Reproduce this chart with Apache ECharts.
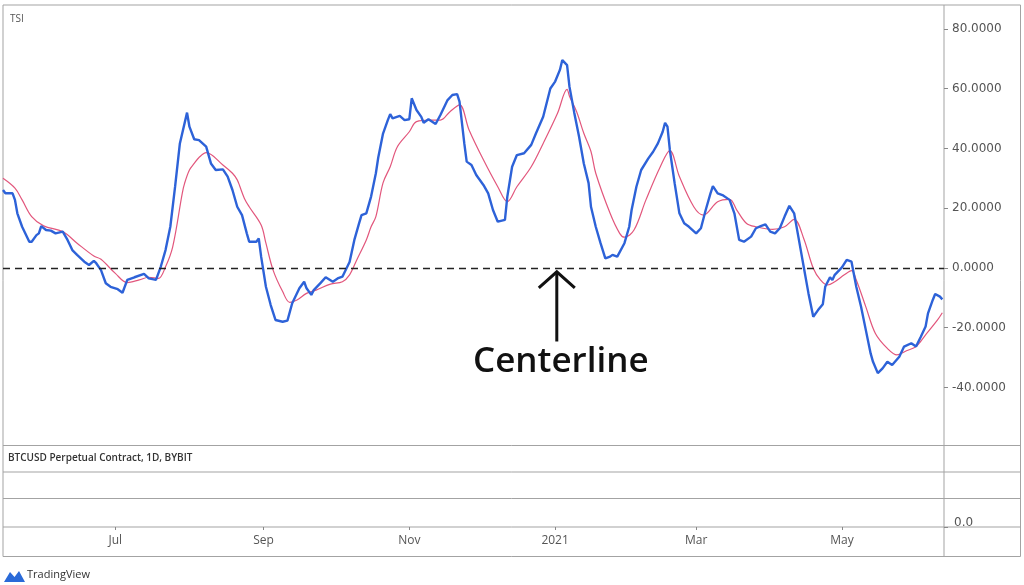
<!DOCTYPE html>
<html>
<head>
<meta charset="utf-8">
<script src="https://cdn.jsdelivr.net/npm/echarts@6/dist/echarts.min.js"></script>
<style>
  html, body { margin: 0; padding: 0; background: #fff; }
  #chart { width: 1024px; height: 585px; }
</style>
</head>
<body>
<div id="chart"></div>
<script>
// first day shown on the chart, every series is given in days from here
const startDate = '2020-05-15';
const lastDay = 393.7;

// TSI line (blue)
const blueDay = [0,1,4,5,6,8,11,12,14,15,
  16,18,20,22,25,27,29,31,34,36,
  38,39,41,43,45,48,50,52,55,59,
  61,64,66,68,70,72,74,77,78,80,
  82,85,87,89,92,94,96,98,100,102,
  103,106,107,108,110,112,114,117,119,121,
  124,126,127,129,130,133,135,138,140,142,
  145,147,149,150,152,154,156,157,159,161,
  162,163,166,168,170,171,173,175,176,178,
  181,183,186,188,190,191,193,194,196,198,
  201,203,205,207,210,211,213,215,218,221,
  223,226,229,231,233,234,236,237,239,241,
  243,245,246,248,250,252,254,255,257,260,
  262,263,265,267,270,272,274,276,277,278,
  279,281,283,285,287,290,292,294,296,297,
  299,301,304,306,308,310,313,315,317,319,
  321,323,325,327,329,331,333,335,337,339,
  341,343,344,346,347,348,351,353,355,357,
  359,361,363,364,366,368,370,372,375,377,
  380,382,384,386,387,389,390,392,393];
const blueTsi = [26.1,25.0,25.0,22.8,18.3,13.8,8.8,8.8,11.0,11.6,
  14.0,12.7,12.5,11.6,12.2,9.4,6.0,4.4,2.1,1.0,
  2.4,1.6,-0.7,-5.1,-6.3,-7.1,-8.3,-4.0,-3.1,-2.0,
  -3.5,-4.0,0.4,6.0,13.8,27.2,41.7,52.0,47.3,43.1,
  42.8,40.6,35.0,32.8,33.0,30.6,26.1,20.5,17.7,11.6,
  8.8,8.8,9.9,3.8,-6.3,-12.4,-17.4,-18.0,-17.6,-11.8,
  -6.8,-4.6,-6.8,-9.0,-7.4,-4.9,-3.1,-4.6,-3.5,-2.9,
  2.0,9.4,15.0,17.7,18.3,23.9,31.7,37.0,45.0,49.5,
  51.5,50.1,50.9,49.5,49.8,56.8,52.9,50.6,48.6,49.8,
  48.2,51.2,56.2,57.9,58.2,55.7,41.7,35.6,34.5,31.1,
  27.8,25.0,19.4,15.5,16.1,23.9,33.9,37.8,38.4,41.2,
  45.1,50.6,60.1,62.4,66.3,69.6,67.9,60.7,52.0,44.0,
  35.0,28.4,20.5,13.8,8.3,3.2,3.8,4.4,3.8,8.3,
  13.8,19.4,27.2,32.8,36.7,38.9,41.7,45.6,48.6,47.3,
  39.5,28.4,18.3,15.0,13.8,11.6,13.3,19.4,25.0,27.4,
  25.0,24.4,22.8,18.3,9.4,8.8,10.5,13.3,14.0,14.6,
  12.2,11.6,13.3,17.2,20.8,18.3,9.4,0.4,-8.5,-16.3,
  -14.1,-12.1,-6.3,-3.1,-4.0,-2.3,0.2,2.7,2.1,-6.3,
  -13.0,-20.8,-28.6,-31.4,-35.2,-33.6,-31.4,-32.5,-29.7,-26.3,
  -25.2,-26.3,-23.0,-19.6,-15.2,-10.7,-8.7,-9.6,-10.5];

// signal line (pink)
const redDay = [0,5,8,12,17,25,31,38,41,47,
  52,57,61,65,68,71,75,76,78,80,
  82,85,92,96,98,99,101,103,108,110,
  113,117,120,123,127,131,137,142,145,148,
  152,154,156,159,162,165,170,173,179,183,
  187,191,195,201,207,211,215,221,226,232,
  236,237,240,243,246,248,254,258,260,264,
  269,275,279,283,289,293,299,304,307,311,
  315,322,327,331,335,339,342,345,348,352,
  355,357,361,365,370,374,378,382,386,391,393];
const redSignal = [30.0,26.7,22.8,17.2,14.1,12.2,8.3,4.0,2.9,-1.8,
  -4.9,-4.0,-3.1,-3.5,0.4,7.1,25.0,28.4,32.8,35.0,
  37.0,38.6,34.5,31.7,29.5,27.5,23.3,20.5,14.4,8.3,
  -0.7,-7.9,-11.5,-10.7,-8.5,-7.4,-5.4,-4.6,-2.3,2.7,
  9.4,13.8,17.2,28.5,33.9,40.6,45.6,49.0,49.5,49.5,
  52.3,54.6,46.2,36.2,27.2,22.2,27.2,33.9,41.7,51.8,
  59.8,57.5,52.3,45.1,39.0,31.7,18.3,11.6,10.3,12.7,
  22.8,33.9,39.3,30.6,20.5,17.7,22.2,23.0,19.4,15.0,
  13.8,12.9,13.8,16.3,9.9,-0.1,-4.0,-5.7,-4.6,-2.3,
  -0.9,-4.0,-13.0,-21.9,-26.9,-29.1,-27.7,-26.3,-22.4,-17.4,-15.0];

// axis ticks
const monthTicks = ['2020-07-01','2020-09-01','2020-11-01','2021-01-01','2021-03-01','2021-05-01'];
const monthLabels = ['Jul','Sep','Nov','2021','Mar','May'];
const tsiTicks = [80, 60, 40, 20, 0, -20, -40];

// annotation
const arrowDay = 231.7;
const arrowTip = -1.3;
const arrowTail = -24.6;
const noteValue = -31.6;
const noteText = 'Centerline';

const DAY = 86400000;
const t0 = Date.parse(startDate + 'T00:00:00Z');
const toTime = d => t0 + d * DAY;
const tickTimes = monthTicks.map(s => Date.parse(s + 'T00:00:00Z'));

const chart = echarts.init(document.getElementById('chart'));

const borderColor = '#a3a3a3';
const labelColor = '#555';

// x runs on timestamps, a value axis lets the month ticks sit at exact dates
let option = {
  animation: false,
  backgroundColor: '#fff',
  grid: [
    { left: 3, right: 80, top: 5, height: 440 },
    { left: 3, right: 80, top: 498, height: 29 }
  ],
  xAxis: [
    { type: 'value', gridIndex: 0, min: t0, max: toTime(lastDay), show: false },
    {
      type: 'value', gridIndex: 1, min: t0, max: toTime(lastDay),
      axisLine: { show: false },
      splitLine: { show: false },
      axisTick: { show: true, customValues: tickTimes, length: 3, lineStyle: { color: '#888' } },
      axisLabel: {
        customValues: tickTimes,
        color: labelColor,
        fontFamily: 'Open Sans',
        fontSize: 12,
        margin: 8,
        formatter: v => monthLabels[tickTimes.indexOf(v)] || ''
      }
    }
  ],
  yAxis: [
    {
      type: 'value', gridIndex: 0, position: 'right', min: -59.25, max: 88.03,
      axisLine: { show: false },
      splitLine: { show: false },
      axisTick: { show: true, customValues: tsiTicks, length: 4, lineStyle: { color: '#888' } },
      axisLabel: {
        customValues: tsiTicks,
        color: labelColor,
        fontFamily: 'DejaVu Sans',
        fontSize: 12,
        margin: 8,
        formatter: v => v.toFixed(4)
      }
    },
    {
      type: 'value', gridIndex: 1, position: 'right', min: 0, max: 1,
      axisLine: { show: false },
      splitLine: { show: false },
      axisTick: { show: true, customValues: [0], length: 4, lineStyle: { color: '#888' } },
      axisLabel: {
        customValues: [0],
        color: labelColor,
        fontFamily: 'DejaVu Sans',
        fontSize: 12,
        margin: 10,
        verticalAlign: 'bottom',
        lineHeight: 9,
        formatter: () => '0.0'
      }
    }
  ],
  series: [
    {
      name: 'TSI',
      type: 'line',
      xAxisIndex: 0, yAxisIndex: 0,
      data: blueDay.map((d, i) => [toTime(d), blueTsi[i]]),
      showSymbol: false,
      lineStyle: { color: '#2d62d8', width: 2.4 },
      z: 3,
      markLine: {
        silent: true,
        symbol: 'none',
        label: { show: false },
        lineStyle: { color: '#222', type: [7, 5], width: 1.4 },
        data: [{ yAxis: 0 }]
      }
    },
    {
      name: 'Signal',
      type: 'line',
      xAxisIndex: 0, yAxisIndex: 0,
      data: redDay.map((d, i) => [toTime(d), redSignal[i]]),
      showSymbol: false,
      smooth: 0.35,
      lineStyle: { color: '#e2567c', width: 1.2 },
      z: 2
    }
  ]
};

chart.setOption(option);

// frame, pane separators, texts and the annotation arrow
const tip = chart.convertToPixel({ gridIndex: 0 }, [toTime(arrowDay), arrowTip]);
const tail = chart.convertToPixel({ gridIndex: 0 }, [toTime(arrowDay), arrowTail]);
const note = chart.convertToPixel({ gridIndex: 0 }, [toTime(arrowDay), noteValue]);

const hLine = y => ({
  type: 'line', silent: true,
  shape: { x1: 3, y1: y, x2: 1020.5, y2: y },
  style: { stroke: borderColor, lineWidth: 1 }
});

chart.setOption({
  graphic: [
    { type: 'rect', silent: true, shape: { x: 3, y: 5, width: 1017.5, height: 551.5 },
      style: { fill: 'none', stroke: borderColor, lineWidth: 1 } },
    hLine(445.5), hLine(472), hLine(498.5), hLine(527),
    { type: 'line', silent: true, shape: { x1: 944, y1: 5, x2: 944, y2: 556.5 },
      style: { stroke: borderColor, lineWidth: 1 } },
    { type: 'text', left: 10, top: 14,
      style: { text: 'TSI', fill: '#555', font: '10px "Open Sans"' } },
    { type: 'text', left: 8, top: 453,
      style: { text: 'BTCUSD Perpetual Contract, 1D, BYBIT', fill: '#333', font: '600 10px "Open Sans"' } },
    // arrow
    { type: 'line', silent: true, z: 10,
      shape: { x1: tip[0], y1: tip[1], x2: tail[0], y2: tail[1] },
      style: { stroke: '#111', lineWidth: 3 } },
    { type: 'polyline', silent: true, z: 10,
      shape: { points: [[tip[0] - 18, tip[1] + 16], [tip[0], tip[1]], [tip[0] + 18, tip[1] + 16]] },
      style: { stroke: '#111', lineWidth: 3, fill: 'none' } },
    { type: 'text', z: 10, x: note[0] + 4, y: note[1],
      style: { text: noteText, fill: '#111', font: '600 35px "Open Sans"', align: 'center', verticalAlign: 'middle' } },
    // TradingView mark
    { type: 'polygon', silent: true,
      shape: { points: [[4, 582], [10, 572], [14.5, 577], [19, 571], [25, 582]] },
      style: { fill: '#2a6ad8' } },
    { type: 'text', left: 27, top: 569,
      style: { text: 'TradingView', fill: '#333', font: '11px "Open Sans"' } }
  ]
});
</script>
</body>
</html>
